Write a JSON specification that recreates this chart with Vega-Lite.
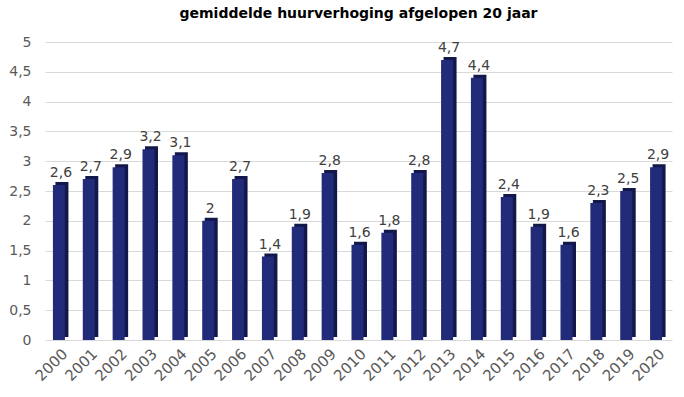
{
  "$schema": "https://vega.github.io/schema/vega-lite/v6.json",
  "width": 684,
  "height": 397,
  "autosize": {"type": "fit", "contains": "padding"},
  "padding": {"left": 8, "right": 12, "top": 7, "bottom": 13},
  "background": "white",
  "config": {
    "locale": {"number": {"decimal": ",", "thousands": ".", "grouping": [3], "currency": ["€", ""]}},
    "view": {"stroke": null},
    "font": "DejaVu Sans"
  },
  "title": {
    "text": "gemiddelde huurverhoging afgelopen 20 jaar",
    "font": "DejaVu Sans",
    "fontSize": 14,
    "fontWeight": "bold",
    "color": "#000000",
    "anchor": "middle",
    "offset": 14
  },
  "data": {
    "values": [
      {"jaar": "2000", "waarde": 2.6},
      {"jaar": "2001", "waarde": 2.7},
      {"jaar": "2002", "waarde": 2.9},
      {"jaar": "2003", "waarde": 3.2},
      {"jaar": "2004", "waarde": 3.1},
      {"jaar": "2005", "waarde": 2.0},
      {"jaar": "2006", "waarde": 2.7},
      {"jaar": "2007", "waarde": 1.4},
      {"jaar": "2008", "waarde": 1.9},
      {"jaar": "2009", "waarde": 2.8},
      {"jaar": "2010", "waarde": 1.6},
      {"jaar": "2011", "waarde": 1.8},
      {"jaar": "2012", "waarde": 2.8},
      {"jaar": "2013", "waarde": 4.7},
      {"jaar": "2014", "waarde": 4.4},
      {"jaar": "2015", "waarde": 2.4},
      {"jaar": "2016", "waarde": 1.9},
      {"jaar": "2017", "waarde": 1.6},
      {"jaar": "2018", "waarde": 2.3},
      {"jaar": "2019", "waarde": 2.5},
      {"jaar": "2020", "waarde": 2.9}
    ]
  },
  "encoding": {
    "x": {
      "field": "jaar",
      "type": "nominal",
      "title": null,
      "scale": {"paddingInner": 0.5, "paddingOuter": 0.25},
      "axis": {
        "labelAngle": -45,
        "labelFontSize": 15,
        "labelColor": "#595959",
        "labelFont": "DejaVu Sans",
        "ticks": false,
        "domain": false,
        "labelPadding": 6
      }
    },
    "y": {
      "field": "waarde",
      "type": "quantitative",
      "title": null,
      "scale": {"domain": [0, 5]},
      "axis": {
        "values": [0, 0.5, 1, 1.5, 2, 2.5, 3, 3.5, 4, 4.5, 5],
        "format": "~g",
        "labelFontSize": 14,
        "labelColor": "#595959",
        "labelFont": "DejaVu Sans",
        "ticks": false,
        "domain": false,
        "gridColor": "#d9d9d9",
        "labelPadding": 14
      }
    }
  },
  "layer": [
    {
      "mark": {"type": "bar", "width": 13, "xOffset": 2, "yOffset": -3, "color": "#12184a"}
    },
    {
      "mark": {"type": "bar", "width": 12, "xOffset": -1, "color": "#222b7a"}
    },
    {
      "mark": {"type": "text", "dy": -12, "dx": 1, "fontSize": 14, "color": "#404040", "font": "DejaVu Sans"},
      "encoding": {"text": {"field": "waarde", "type": "quantitative", "format": "~g"}}
    }
  ]
}
